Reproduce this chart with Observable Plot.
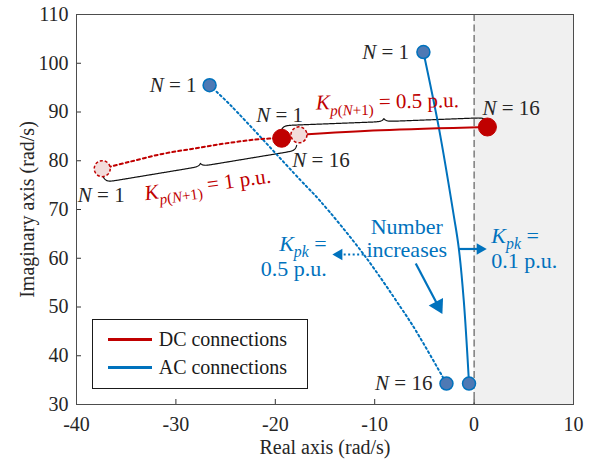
<!DOCTYPE html>
<html>
<head>
<meta charset="utf-8">
<script src="https://cdn.jsdelivr.net/npm/d3@7"></script>
<script src="https://cdn.jsdelivr.net/npm/@observablehq/plot@0.6"></script>
<style>
  html, body { margin: 0; padding: 0; background: #fff; }
  #wrap { position: relative; width: 592px; height: 459px; font-family: "Liberation Serif", "Times New Roman", serif; }
  #wrap svg, #wrap svg text, #wrap svg g { font-family: "Liberation Serif", "Times New Roman", serif !important; }
  #legend { position: absolute; background: #fff; border: 1px solid #1a1a1a; box-sizing: border-box; }
  .lg-row { position: absolute; left: 0; display: flex; align-items: center; font-size: 20px; color: #1a1a1a; }
  .lg-line { display: inline-block; height: 3.5px; width: 44px; margin-left: 15px; margin-right: 7px; }
</style>
</head>
<body>
<div id="wrap"></div>
<script>
// ---------------- data ----------------
const xDomain = [-40, 10];
const yDomain = [30, 110];
const xTicks = [-40, -30, -20, -10, 0, 10];
const yTicks = [30, 40, 50, 60, 70, 80, 90, 100, 110];
const unstableRe = [0, 10];          // shaded right-half plane
const stabilityBoundary = [0];

// AC connections, Kpk = 0.1 p.u. (solid), N = 1 ... 16
const acKpk01Re = [-5.10, -3.53, -2.02, -1.55, -1.04, -0.51];
const acKpk01Im = [102.3, 86.6, 68.45, 62.2, 51.35, 34.3];
// AC connections, Kpk = 0.5 p.u. (dotted)
const acKpk05Re = [-26.61, -24.50, -17.45, -15.54, -11.11, -7.38, -5.87, -2.78];
const acKpk05Im = [95.49, 91.38, 75.98, 71.88, 60.8, 49.91, 45.19, 34.3];
// DC connections, Kp(N+1) = 1 p.u. (dotted)
const dcKp1Re = [-37.41, -34.74, -31.37, -28.02, -24.67, -21.31, -19.36];
const dcKp1Im = [78.38, 79.74, 81.40, 82.55, 83.66, 84.48, 84.61];
// DC connections, Kp(N+1) = 0.5 p.u. (solid)
const dcKp05Re = [-17.62, -9.40, 1.34];
const dcKp05Im = [85.32, 86.25, 86.92];

// annotations (data coordinates)
const nLabelText = ["*N* = 1", "*N* = 1", "*N* = 1", "*N* = 16", "*N* = 16", "*N* = 1", "*N* = 16"];
const nLabelRe   = [-27.92, -6.55, -19.57, 0.84, -18.29, -39.87, -4.19];
const nLabelIm   = [95.45, 102.3, 89.26, 90.7, 80.03, 72.84, 34.3];
const nLabelAnchor = ["end", "end", "middle", "start", "start", "start", "end"];

const redText   = ["*K*_{*p*(*N*+1)} = 1 p.u.", "*K*_{*p*(*N*+1)} = 0.5 p.u."];
const redTextRe = [-26.81, -8.72];
const redTextIm = [75.1, 92.14];
const redTextRot = [-8, -1];

const blueText   = ["*K*_{*pk*} =", "0.5 p.u.", "*K*_{*pk*} =", "0.1 p.u.", "Number", "increases"];
const blueTextRe = [-14.83, -14.83, 1.73, 1.73, -6.78, -6.78];
const blueTextIm = [63.0, 57.86, 64.63, 59.5, 66.48, 61.7];
const blueTextAnchor = ["end", "end", "start", "start", "middle", "middle"];

const braceKp1  = [[-37.28, 76.57], [-17.85, 83.15]];
const braceKp05 = [[-19.36, 86.39], [1.27, 88.03]];

const arrowKpk05  = [[-11.11, 60.77], [-14.26, 60.77]];
const arrowKpk01  = [[-1.55, 61.9], [1.27, 61.9]];
const arrowNumber = [[-5.87, 58.94], [-3.19, 48.55]];

const legendLabels = ["DC connections", "AC connections"];

// ---------------- layout ----------------
const W = 592, H = 459, mL = 76, mR = 19, mT = 14, mB = 55;
const red = "#c00000", blue = "#0072bd", ink = "#262626";
const kx = (W - mL - mR) / (xDomain[1] - xDomain[0]);
const ky = (H - mT - mB) / (yDomain[1] - yDomain[0]);
const toPx = ([x, y]) => [(x - xDomain[0]) * kx, (yDomain[1] - y) * ky];
const toData = ([px, py]) => [xDomain[0] + px / kx, yDomain[1] - py / ky];

const series = (re, im) => re.map((x, i) => ({x, y: im[i]}));
const acSolid = series(acKpk01Re, acKpk01Im);
const acDotted = series(acKpk05Re, acKpk05Im);
const dcDotted = series(dcKp1Re, dcKp1Im);
const dcSolid = series(dcKp05Re, dcKp05Im);

const acDots = [acSolid[0], acSolid[acSolid.length - 1], acDotted[0], acDotted[acDotted.length - 1]];
const dcN16 = [dcDotted[dcDotted.length - 1], dcSolid[dcSolid.length - 1]];
const dcN1 = [dcDotted[0], dcSolid[0]];

function brace([A, B], side, q, c, r = 2.2) {
  const a = toPx(A), b = toPx(B);
  const dx = b[0] - a[0], dy = b[1] - a[1], L = Math.hypot(dx, dy);
  const ux = dx / L, uy = dy / L;
  let nx = -uy, ny = ux;
  if (Math.sign(ny) !== side) { nx = -nx; ny = -ny; }
  const pts = [], n = 400;
  for (let i = 0; i <= n; i++) {
    const u = L * i / n, m = Math.min(u, L - u), d = Math.abs(u - L / 2);
    const h = q * (1 - Math.exp(-m / r)) + c * Math.exp(-d / r);
    const [x, y] = toData([a[0] + ux * u + nx * h, a[1] + uy * u + ny * h]);
    pts.push({x, y});
  }
  return pts;
}

function arrow([tail, tip], color, r, dash) {
  const a = toPx(tail), b = toPx(tip);
  const dx = b[0] - a[0], dy = b[1] - a[1], L = Math.hypot(dx, dy);
  const ux = dx / L, uy = dy / L;
  const size = Math.PI * r * r;
  const yy = Math.sqrt(size / (3 * Math.sqrt(3)));
  const c = toData([b[0] - ux * 2 * yy, b[1] - uy * 2 * yy]);
  const e = toData([b[0] - ux * 2.6 * yy, b[1] - uy * 2.6 * yy]);
  const rot = Math.atan2(dx, -dy) * 180 / Math.PI;
  return [
    Plot.link([{x1: tail[0], y1: tail[1], x2: e[0], y2: e[1]}],
      {x1: "x1", y1: "y1", x2: "x2", y2: "y2", stroke: color, strokeWidth: dash ? 2 : 2.2, strokeDasharray: dash || null}),
    Plot.dot([{x: c[0], y: c[1]}], {x: "x", y: "y", symbol: "triangle", r, rotate: rot, fill: color, stroke: "none"})
  ];
}

const nLabels = nLabelText.map((t, i) => ({t, x: nLabelRe[i], y: nLabelIm[i], a: nLabelAnchor[i]}));
const redLabels = redText.map((t, i) => ({t, x: redTextRe[i], y: redTextIm[i], r: redTextRot[i]}));
const blueLabels = blueText.map((t, i) => ({t, x: blueTextRe[i], y: blueTextIm[i], a: blueTextAnchor[i]}));

const textMarks = (data, color, size) =>
  ["start", "middle", "end"].map(a => Plot.text(data.filter(d => (d.a || "middle") === a),
    {x: "x", y: "y", text: "t", textAnchor: a, fill: color, fontSize: size, rotate: d => d.r || 0}));

const plot = Plot.plot({
  width: W, height: H,
  marginLeft: mL, marginRight: mR, marginTop: mT, marginBottom: mB,
  x: {domain: xDomain},
  y: {domain: yDomain},
  style: {fontFamily: "'Liberation Serif', 'Times New Roman', serif", color: ink, background: "white"},
  marks: [
    Plot.rect([{x1: unstableRe[0], x2: unstableRe[1]}], {x1: "x1", x2: "x2", y1: yDomain[0], y2: yDomain[1], fill: "#f0f0f0"}),
    Plot.ruleX(stabilityBoundary, {x: d => d, stroke: "#444", strokeDasharray: "7,3.5", strokeWidth: 1}),
    Plot.ruleX(xTicks, {x: d => d, y1: yDomain[0], y2: yDomain[0] + 5 / ky, stroke: "#333"}),
    Plot.ruleY(yTicks, {y: d => d, x1: xDomain[0], x2: xDomain[0] + 5 / kx, stroke: "#333"}),
    Plot.axisX(xTicks, {tickSize: 0, tickPadding: 12, tickFormat: d => String(d), fontSize: 20, label: null, fill: ink}),
    Plot.axisY(yTicks, {tickSize: 0, tickPadding: 8, tickFormat: d => String(d), fontSize: 20, label: null, fill: ink}),
    Plot.frame({stroke: "#4d4d4d"}),
    Plot.text(["Real axis (rad/s)"], {text: d => d, frameAnchor: "bottom", lineAnchor: "middle", textAnchor: "middle", dy: 43, fontSize: 20, fill: ink}),
    Plot.text(["Imaginary axis (rad/s)"], {text: d => d, frameAnchor: "left", lineAnchor: "middle", textAnchor: "middle", dx: -49, rotate: -90, fontSize: 20, fill: ink}),
    // braces
    Plot.line(brace(braceKp1, 1, 5, -3), {x: "x", y: "y", stroke: "#111", strokeWidth: 1.2}),
    Plot.line(brace(braceKp05, -1, 4, 3), {x: "x", y: "y", stroke: "#111", strokeWidth: 1.2}),
    // curves
    Plot.line(acDotted, {x: "x", y: "y", stroke: blue, strokeWidth: 2, strokeDasharray: "1.8,3", curve: "catmull-rom"}),
    Plot.line(acSolid, {x: "x", y: "y", stroke: blue, strokeWidth: 2, curve: "catmull-rom"}),
    Plot.line(dcDotted, {x: "x", y: "y", stroke: red, strokeWidth: 2, strokeDasharray: "3,3", curve: "catmull-rom"}),
    Plot.line(dcSolid, {x: "x", y: "y", stroke: red, strokeWidth: 2, curve: "catmull-rom"}),
    // arrows
    ...arrow(arrowKpk05, blue, 4.3, "2,2.5"),
    ...arrow(arrowKpk01, blue, 4.3, null),
    ...arrow(arrowNumber, blue, 6, null),
    // dots
    Plot.dot(acDots, {x: "x", y: "y", r: 6.5, fill: "#4e79b4", stroke: blue, strokeWidth: 1.5}),
    Plot.dot(dcN16, {x: "x", y: "y", r: 9, fill: red, stroke: red, strokeWidth: 1}),
    Plot.dot(dcN1, {x: "x", y: "y", r: 8, fill: "#f2dcdb", stroke: red, strokeWidth: 1.5, strokeDasharray: "3,2"}),
    // labels
    ...textMarks(nLabels, ink, 21),
    ...textMarks(redLabels, red, 21),
    ...textMarks(blueLabels, blue, 22)
  ]
});

const wrap = document.getElementById("wrap");
wrap.appendChild(plot);

// rich text: *italic*, _{subscript}
function richify(svg) {
  svg.querySelectorAll("text").forEach(t => {
    const s = t.textContent;
    if (!/[*]|_\{/.test(s)) return;
    const fs = parseFloat(getComputedStyle(t).fontSize) || 20;
    const segs = [];
    let it = false, sb = false, cur = "";
    const push = () => { if (cur) segs.push({t: cur, it, sb}); cur = ""; };
    for (let i = 0; i < s.length; i++) {
      const ch = s[i];
      if (ch === "*") { push(); it = !it; }
      else if (ch === "_" && s[i + 1] === "{") { push(); sb = true; i++; }
      else if (ch === "}" && sb) { push(); sb = false; }
      else cur += ch;
    }
    push();
    t.textContent = "";
    let prevSub = false;
    const shift = 0.3 * fs;
    for (const sg of segs) {
      const ts = document.createElementNS("http://www.w3.org/2000/svg", "tspan");
      ts.textContent = sg.t;
      if (sg.it) ts.setAttribute("font-style", "italic");
      if (sg.sb) ts.setAttribute("font-size", (0.72 * fs).toFixed(1));
      if (sg.sb && !prevSub) ts.setAttribute("dy", shift.toFixed(1));
      if (!sg.sb && prevSub) ts.setAttribute("dy", (-shift).toFixed(1));
      prevSub = sg.sb;
      t.appendChild(ts);
    }
  });
}
richify(plot);

// legend box inside the axes
const lgBox = toPx([-38.42, 47.53]), lgEnd = toPx([-16.62, 33.16]);
const legend = d3.select(wrap).append("div").attr("id", "legend")
  .style("left", (mL + lgBox[0]) + "px").style("top", (mT + lgBox[1]) + "px")
  .style("width", (lgEnd[0] - lgBox[0]) + "px").style("height", (lgEnd[1] - lgBox[1]) + "px");
const legendColors = [red, blue];
legendLabels.forEach((lab, i) => {
  const row = legend.append("div").attr("class", "lg-row").style("top", (8 + i * 28) + "px").style("height", "24px");
  row.append("span").attr("class", "lg-line").style("background", legendColors[i]);
  row.append("span").text(lab);
});
</script>
</body>
</html>
